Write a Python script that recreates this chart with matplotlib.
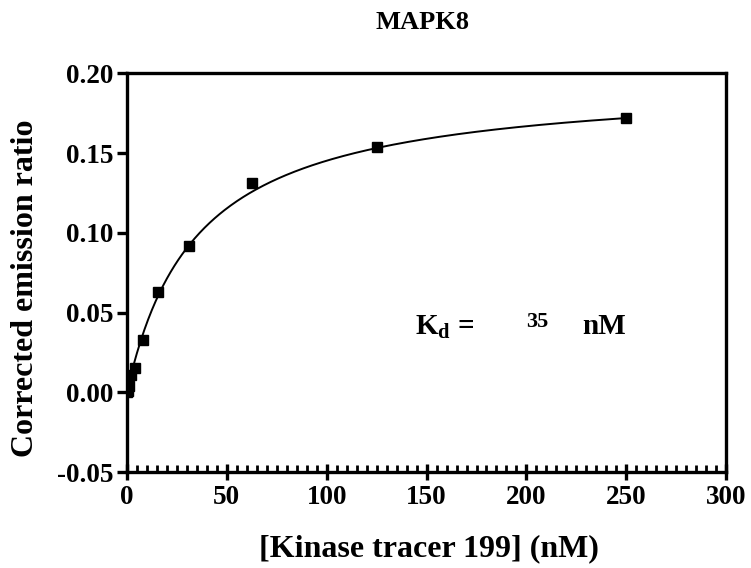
import matplotlib.pyplot as plt
import numpy as np
from matplotlib.ticker import MultipleLocator

# tracer concentrations (nM) and measured corrected emission ratio
conc = [250, 125, 62.5, 31.25, 15.6, 7.8, 3.9, 1.95, 0.98, 0.49, 0.0]
ratio = [0.172, 0.154, 0.131, 0.092, 0.063, 0.033, 0.015, 0.011, 0.004, 0.001, 0.000]

# one-site binding fit
bmax = 0.196
kd = 35

x_ticks = [0, 50, 100, 150, 200, 250, 300]
y_ticks = [-0.05, 0.00, 0.05, 0.10, 0.15, 0.20]


def binding(x):
    return bmax * x / (kd + x)


def main():
    plt.rcParams['font.family'] = ['Liberation Serif', 'DejaVu Serif']
    plt.rcParams['font.weight'] = 'bold'
    plt.rcParams['mathtext.fontset'] = 'custom'
    plt.rcParams['mathtext.rm'] = 'Liberation Serif:bold'
    plt.rcParams['mathtext.bf'] = 'Liberation Serif:bold'

    fig = plt.figure(figsize=(7.51, 5.68), dpi=100)
    ax = fig.add_axes([0.169, 0.169, 0.798, 0.702])

    xs = np.linspace(0, max(conc), 400)
    ax.plot(xs, binding(xs), color='black', lw=1.4)
    ax.plot(conc, ratio, 's', color='black', ms=7.5)

    ax.set_xlim(0, 300)
    ax.set_ylim(-0.05, 0.20)
    ax.set_xticks(x_ticks)
    ax.set_yticks(y_ticks)
    ax.set_yticklabels(['%.2f' % v for v in y_ticks])
    ax.xaxis.set_minor_locator(MultipleLocator(5))

    for s in ax.spines.values():
        s.set_linewidth(2.4)
    ax.tick_params(axis='both', which='major', width=2.4, labelsize=19.5, pad=3)
    ax.tick_params(axis='x', which='major', direction='inout', length=12)
    ax.tick_params(axis='y', which='major', direction='out', length=7)
    ax.tick_params(axis='x', which='minor', direction='in', length=5, width=2.0)
    for lab in ax.get_xticklabels() + ax.get_yticklabels():
        lab.set_fontweight('bold')

    ax.set_xlabel('[Kinase tracer 199] (nM)', fontsize=23, fontweight='bold')
    ax.set_ylabel('Corrected emission ratio', fontsize=23, fontweight='bold')
    ax.xaxis.set_label_coords(0.504, -0.155)
    ax.yaxis.set_label_coords(-0.145, 0.46)
    fig.text(0.563, 0.96, 'MAPK8', ha='center', va='center', fontsize=19, fontweight='bold')

    ax.text(144, 0.041, r'K$_{\mathbf{d}}$ =', fontsize=21, fontweight='bold', va='center')
    ax.text(200, 0.044, '35', fontsize=16, fontweight='bold', va='center')
    ax.text(228, 0.041, 'nM', fontsize=21, fontweight='bold', va='center')

    fig.savefig('out.png', dpi=100)


if __name__ == "__main__":
    main()
